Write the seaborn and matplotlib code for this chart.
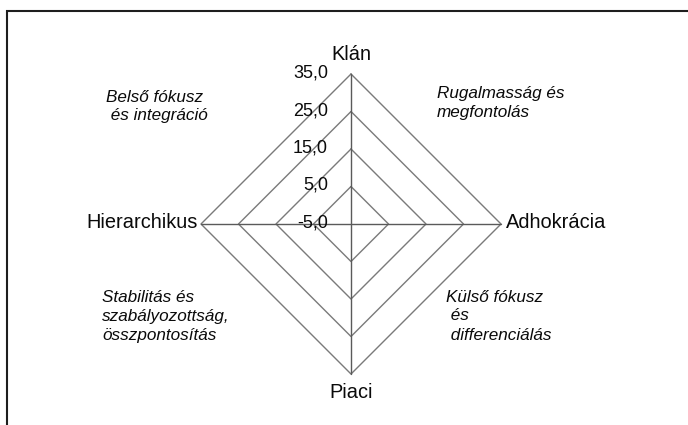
import numpy as np
import pandas as pd
import matplotlib
matplotlib.use("Agg")
import matplotlib.pyplot as plt
import seaborn as sns
from matplotlib.patches import Rectangle

# Competing-values culture profile: four culture types on a diamond radar grid
categories = ["Klán", "Adhokrácia", "Piaci", "Hierarchikus"]
ring_values = [-5, 5, 15, 25, 35]
tick_labels = ["-5,0", "5,0", "15,0", "25,0", "35,0"]

# Quadrant descriptions (each line: left x px, baseline y px, text)
note_lines = [
    (106, 102.5, "Belső fókusz"),
    (106, 120.5, " és integráció"),
    (437, 98.5, "Rugalmasság és"),
    (437, 117, "megfontolás"),
    (102, 301.5, "Stabilitás és"),
    (102, 320.5, "szabályozottság,"),
    (102, 340, "összpontosítás"),
    (446, 301.5, "Külső fókusz"),
    (446, 320.5, " és"),
    (446, 340, " differenciálás"),
]

sns.set_theme(style="white")
plt.rcParams["font.family"] = ["Liberation Sans", "DejaVu Sans"]

W, H = 688, 425
fig = plt.figure(figsize=(W / 100, H / 100), dpi=100)
fig.patch.set_facecolor("white")

cx, cy, R = 351, 224, 150
ax = fig.add_axes([(cx - R) / W, (H - cy - R) / H, 2 * R / W, 2 * R / H],
                  projection="polar")
ax.set_theta_offset(np.pi / 2)
ax.set_theta_direction(-1)
ax.set_ylim(ring_values[0], ring_values[-1])
ax.grid(False)
ax.set_xticks([])
ax.set_yticks([])
ax.spines["polar"].set_visible(False)
ax.patch.set_alpha(0)

angles = np.linspace(0, 2 * np.pi, len(categories), endpoint=False)

# Polygon rings at each gridline value
ring_rows = []
for v in ring_values[1:]:
    closed = list(angles) + [angles[0]]
    for i, a in enumerate(closed):
        ring_rows.append({"ring": v, "order": i, "theta": a, "r": v})
rings = pd.DataFrame(ring_rows)
sns.lineplot(data=rings, x="theta", y="r", units="ring", estimator=None,
             sort=False, color="#7a7a7a", linewidth=1.0, ax=ax,
             legend=False, clip_on=False)

# Spokes from the centre to each category vertex
spoke_rows = []
for k, a in enumerate(angles):
    spoke_rows.append({"spoke": k, "theta": a, "r": ring_values[0]})
    spoke_rows.append({"spoke": k, "theta": a, "r": ring_values[-1]})
spokes = pd.DataFrame(spoke_rows)
sns.lineplot(data=spokes, x="theta", y="r", units="spoke", estimator=None,
             sort=False, color="#5a5a5a", linewidth=1.0, ax=ax,
             legend=False, clip_on=False)
ax.set_xlabel("")
ax.set_ylabel("")

# Radial value labels along the upper spoke
for v, lab in zip(ring_values, tick_labels):
    ax.annotate(lab, xy=(0, v), xytext=(-23, 1), textcoords="offset pixels",
                ha="right", va="center", fontsize=13, color="#0a0a0a",
                annotation_clip=False)

# Category labels at the outer vertices
cat_offsets = [((0, 20), "center"), ((5, 2), "left"),
               ((0, -19), "center"), ((-3, 2), "right")]
for a, name, (off, ha) in zip(angles, categories, cat_offsets):
    ax.annotate(name, xy=(a, ring_values[-1]), xytext=off,
                textcoords="offset pixels", ha=ha, va="center",
                fontsize=14.4, color="#0a0a0a", annotation_clip=False)

# Quadrant descriptions
for x, y, txt in note_lines:
    fig.text(x / W, 1 - y / H, txt, ha="left", va="baseline",
             fontsize=12.3, style="italic", color="#0a0a0a")

# Outer frame (open towards the right and bottom edges)
fig.add_artist(Rectangle((7 / W, -0.2), 1.5, (1 - 10.5 / H) + 0.2,
                         transform=fig.transFigure, fill=False,
                         edgecolor="#1e1e1e", linewidth=1.5))

fig.savefig("out.png", dpi=100)
